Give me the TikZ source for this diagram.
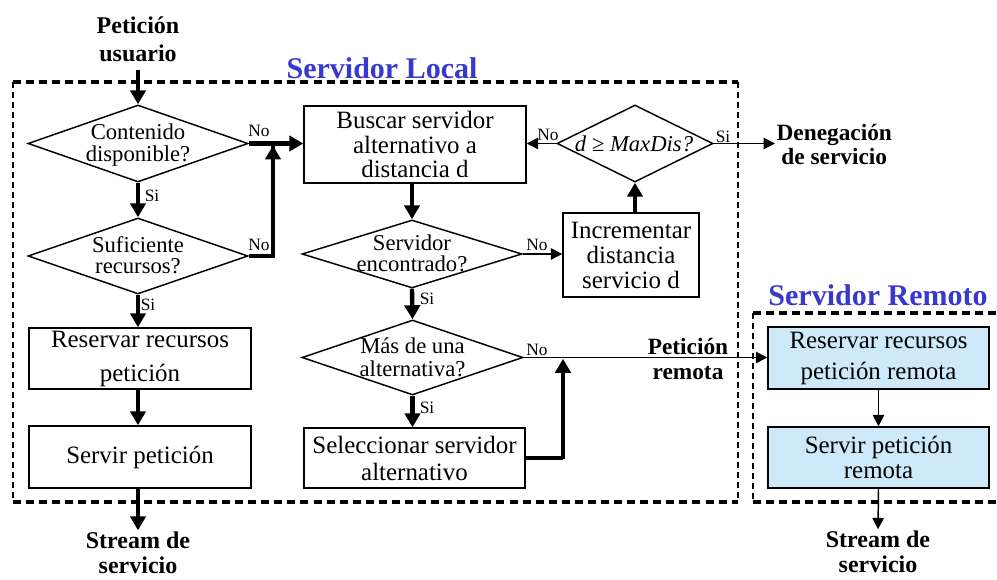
\documentclass[tikz,border=0pt]{standalone}
\usepackage{fontspec}
\setmainfont{Liberation Serif}
\usetikzlibrary{shapes.geometric,arrows.meta}
\definecolor{titleblue}{RGB}{56,56,204}
\definecolor{remotefill}{RGB}{205,233,250}
\newcommand{\fsz}[2]{\fontsize{#1pt}{#2pt}\selectfont}

\begin{document}
\begin{tikzpicture}[x=0.75pt,y=-0.75pt,
  sz/.style 2 args={minimum width={#1*0.75pt},minimum height={#2*0.75pt}},
  procbox/.style={draw, line width=1.1pt, inner sep=0pt, align=center},
  remotebox/.style={procbox, fill=remotefill},
  decision/.style={draw, diamond, line width=1.1pt, inner sep=0pt},
  dtext/.style={align=center, inner sep=0pt},
  endlabel/.style={align=center, inner sep=1pt},
  title/.style={font=\bfseries\fsz{22.5}{27}, text=titleblue, inner sep=0pt},
  lbl/.style={font=\fsz{13}{14}, inner sep=0pt},
  heavy/.style={line width=3.3pt, -{Triangle[length=10.5pt,width=11.5pt]}},
  heavyline/.style={line width=3.3pt},
  light/.style={line width=1.1pt, -{Triangle[length=8.5pt,width=8.5pt]}},
  hdash/.style={line width=2.3pt, dash pattern=on 6pt off 3.8pt},
  vdash/.style={line width=1pt, dash pattern=on 4.5pt off 3pt}
]
\useasboundingbox (0,0) rectangle (997,580);

% dashed frames of the two servers
\draw[hdash] (13,82) -- (738,82);
\draw[hdash] (13,502) -- (738,502);
\draw[vdash] (13,82) -- (13,502);
\draw[vdash] (738,82) -- (738,502);
\draw[hdash] (753,313) -- (997,313);
\draw[hdash] (753,502) -- (997,502);
\draw[vdash] (753,313) -- (753,502);

\node[title] (loctitle) at (382,68) {Servidor Local};
\node[title] (remtitle) at (878,295) {Servidor Remoto};

% left column
\node[endlabel, font=\bfseries\fsz{18}{21}] (usr) at (138,39) {Petición\\usuario};
\node[decision, sz={220}{77}] (d1) at (138,143.5) {};
\node[dtext, font=\fsz{17}{16.5}] (d1t) at (138,145) {Contenido\\disponible?};
\node[decision, sz={220}{76}] (d2) at (138,256) {};
\node[dtext, font=\fsz{17}{16}] (d2t) at (138,255) {Suficiente\\recursos?};
\node[procbox, sz={222}{61}, font=\fsz{18.7}{25.5}] (r1) at (140,358.5) {Reservar recursos\\petición};
\node[procbox, sz={222}{62}, font=\fsz{18.7}{20}] (r2) at (140,457) {Servir petición};
\node[endlabel, font=\bfseries\fsz{18}{19}] (out1) at (138,553) {Stream de\\servicio};

% middle column
\node[procbox, sz={222}{77}, font=\fsz{18.7}{18.4}] (b1) at (415,144.5) {Buscar servidor\\alternativo a\\distancia d};
\node[decision, sz={220}{68}] (d3) at (412,254) {};
\node[dtext, font=\fsz{17}{16}] (d3t) at (412,253) {Servidor\\encontrado?};
\node[decision, sz={221}{75}] (d4) at (412.5,357.5) {};
\node[dtext, font=\fsz{17}{17.25}] (d4t) at (412.5,357) {Más de una\\alternativa?};
\node[procbox, sz={221}{60}, font=\fsz{18.7}{20.25}] (b2) at (414.5,458) {Seleccionar servidor\\alternativo};

% distance loop
\node[procbox, sz={136}{84}, font=\fsz{18.7}{18.75}] (inc) at (631,255) {Incrementar\\distancia\\servicio d};
\node[decision, sz={156}{77}] (d5) at (635,143.5) {};
\node[dtext, font=\itshape\fsz{17}{17}] (d5t) at (634,143.5) {d ≥ MaxDis?};
\node[endlabel, anchor=west, font=\bfseries\fsz{17.5}{18}] (deny) at (775,145) {Denegación\\de servicio};

% remote server
\node[endlabel, font=\bfseries\fsz{17.5}{18.75}] (pr) at (688,359) {Petición\\remota};
\node[remotebox, sz={221}{62}, font=\fsz{18.7}{23.25}] (rr1) at (878.5,358) {Reservar recursos\\petición remota};
\node[remotebox, sz={221}{61}, font=\fsz{18.7}{18.75}] (rr2) at (878.5,457.5) {Servir petición\\remota};
\node[endlabel, font=\bfseries\fsz{18}{19}] (out2) at (878,552) {Stream de\\servicio};

\coordinate (j1) at (273,0);
\coordinate (j2) at (563,0);

% connectors, left column
\draw[heavy, shorten <=5pt] (usr.south) -- (d1.north);
\draw[heavy] (d1.east) -- (b1.west |- d1.east);
\draw[heavy] (d1.south) -- (d2.north);
\draw[heavyline] (d2.east) -| ([yshift=-1pt]j1 |- d1.east);
\draw[heavy, shorten >=1.5pt] (j1 |- d2.east) -- (j1 |- d1.east);
\draw[heavy] (d2.south) -- (d2.south |- r1.north);
\draw[heavy] (r1.south -| d2.south) -- (r2.north -| d2.south);
\draw[heavy] (r2.south -| d2.south) -- (out1.north);

% connectors, middle column and loop
\draw[heavy] (b1.south -| d3.north) -- (d3.north);
\draw[light] (d3.east) -- (inc.west |- d3.east);
\draw[heavy] (inc.north -| d5.south) -- (d5.south);
\draw[light] (d5.west) -- (b1.east |- d5.west);
\draw[light] (d5.east) -- (deny.west |- d5.east);
\draw[heavy] (d3.south) -- (d4.north);
\draw[heavy] (d4.south) -- (b2.north -| d4.south);
\draw[light] (d4.east) -- (rr1.west |- d4.east);
\draw[heavyline] (b2.east) -| ([yshift=-1pt]j2 |- b2.east);
\draw[heavy, shorten >=1pt] (j2 |- b2.east) -- (j2 |- d4.east);
\draw[light] (rr1.south) -- (rr2.north);
\draw[light] (rr2.south) -- (out2.north);

% branch labels
\node[lbl] (n1) at (259,131) {No};
\node[lbl] (s1) at (152,196) {Si};
\node[lbl] (n2) at (259,245) {No};
\node[lbl] (s2) at (148,305) {Si};
\node[lbl] (n5) at (548,135) {No};
\node[lbl] (s5) at (723,137) {Si};
\node[lbl] (n3) at (537,245) {No};
\node[lbl] (s3) at (427,299) {Si};
\node[lbl] (n4) at (537,350) {No};
\node[lbl] (s4) at (427,408) {Si};
\end{tikzpicture}
\end{document}
